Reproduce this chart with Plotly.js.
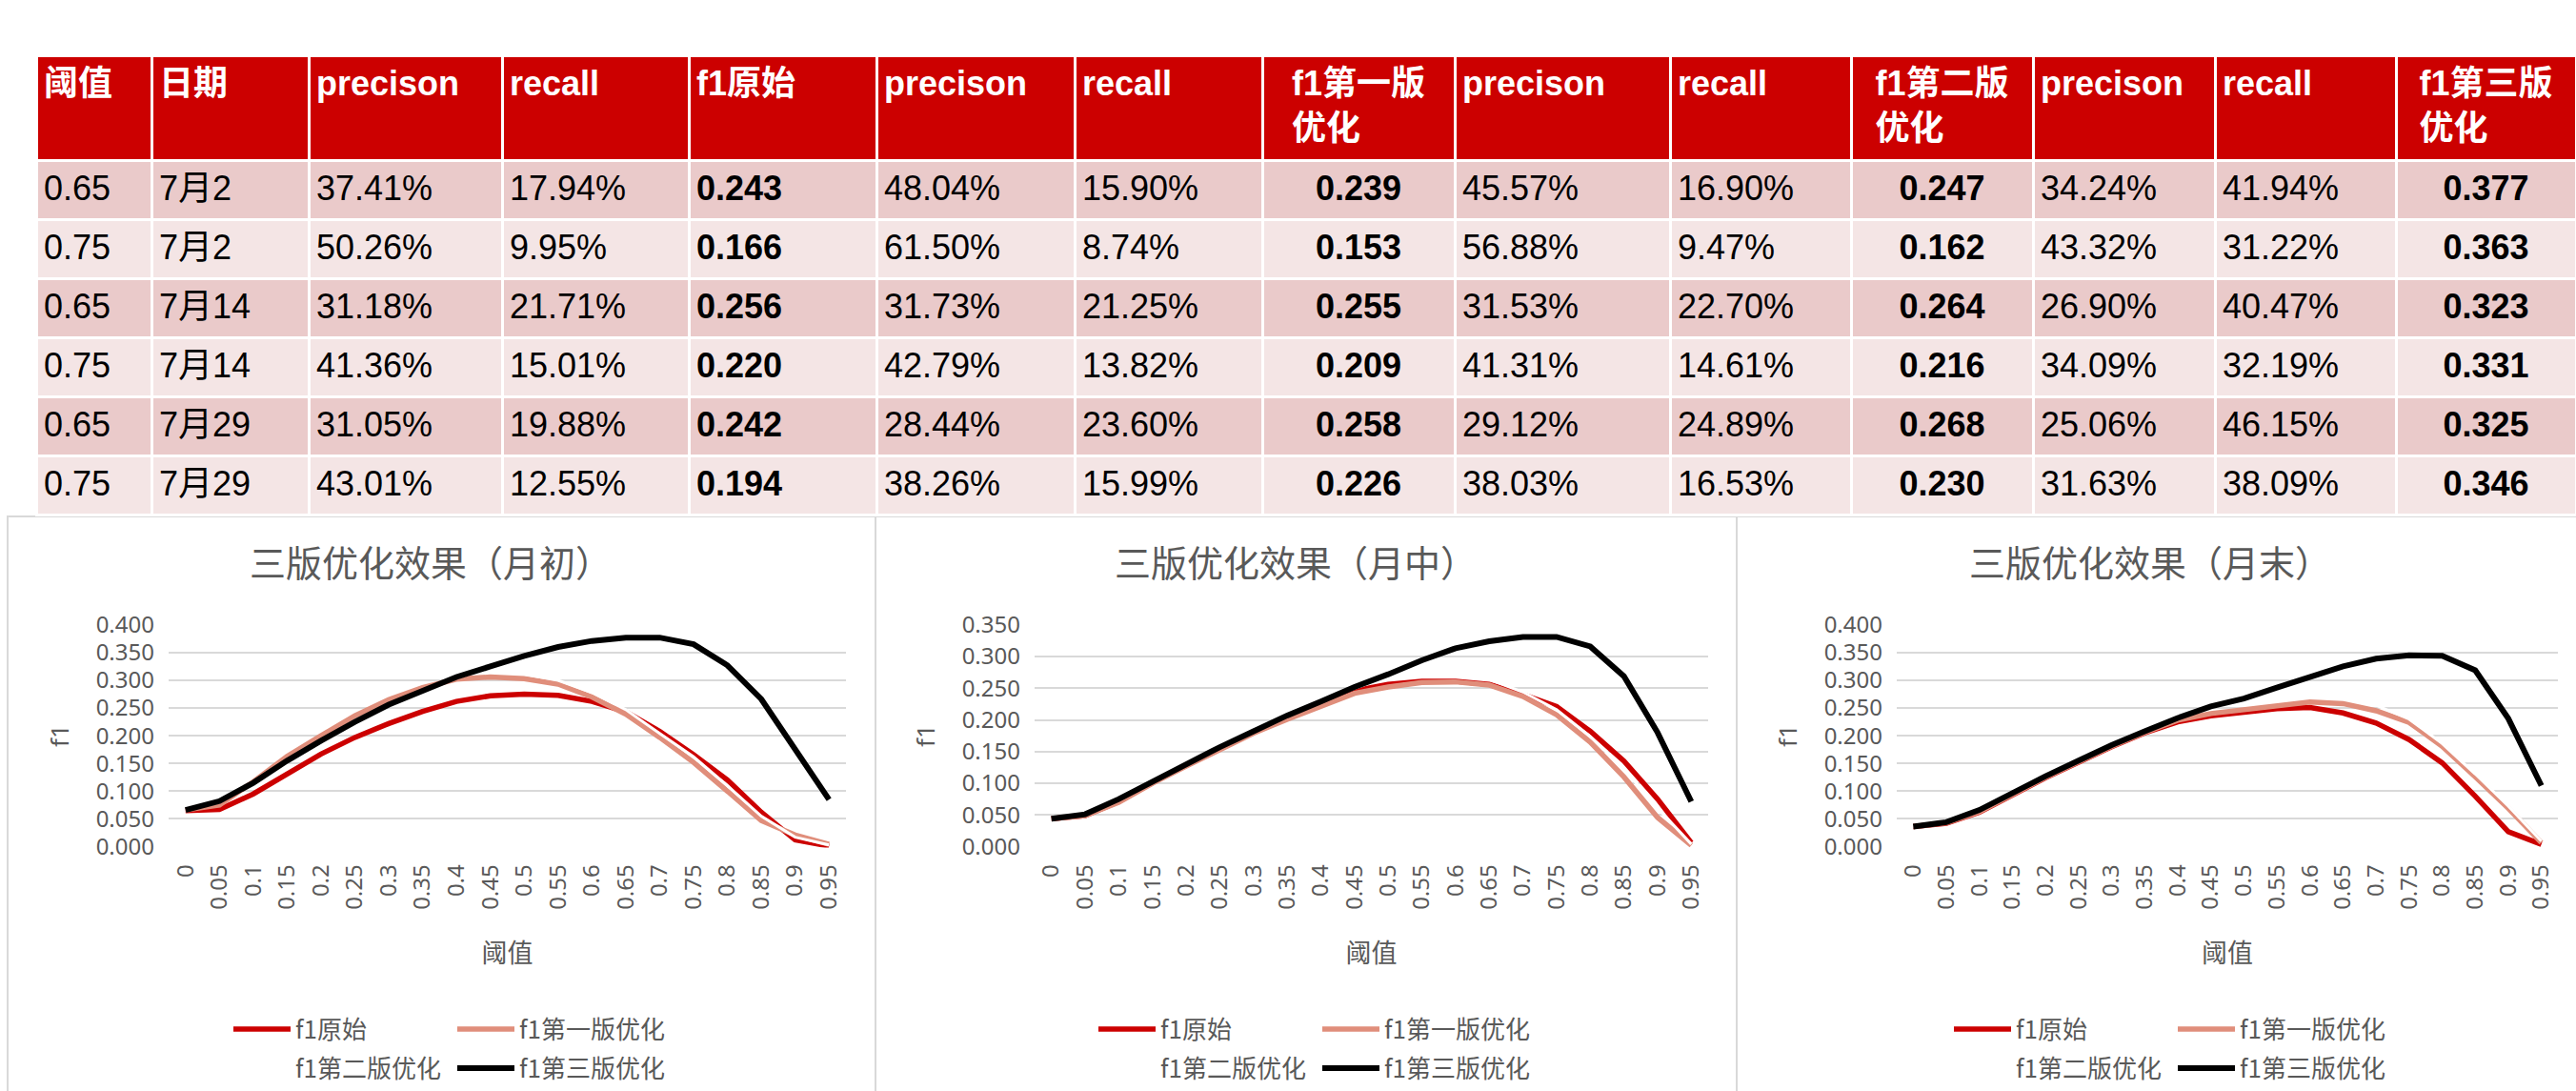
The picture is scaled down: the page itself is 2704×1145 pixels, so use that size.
<!DOCTYPE html>
<html>
<head>
<meta charset="utf-8">
<script src="https://cdn.plot.ly/plotly-3.0.1.min.js"></script>
<style>
html,body{margin:0;padding:0;background:#ffffff;}
#chart{width:2704px;height:1145px;}
</style>
</head>
<body>
<div id="chart"></div>
<script>
// ---------------- table data ----------------
const tableHeaders = ['阈值','日期','precison','recall','f1原始','precison','recall','f1第一版<br>优化','precison','recall','f1第二版<br>优化','precison','recall','f1第三版<br>优化'];
const colThreshold = ['0.65','0.75','0.65','0.75','0.65','0.75'];
const colDate = ['7月2','7月2','7月14','7月14','7月29','7月29'];
const precOrig = ['37.41%','50.26%','31.18%','41.36%','31.05%','43.01%'];
const recallOrig = ['17.94%','9.95%','21.71%','15.01%','19.88%','12.55%'];
const f1Orig = ['0.243','0.166','0.256','0.220','0.242','0.194'];
const precV1 = ['48.04%','61.50%','31.73%','42.79%','28.44%','38.26%'];
const recallV1 = ['15.90%','8.74%','21.25%','13.82%','23.60%','15.99%'];
const f1V1 = ['0.239','0.153','0.255','0.209','0.258','0.226'];
const precV2 = ['45.57%','56.88%','31.53%','41.31%','29.12%','38.03%'];
const recallV2 = ['16.90%','9.47%','22.70%','14.61%','24.89%','16.53%'];
const f1V2 = ['0.247','0.162','0.264','0.216','0.268','0.230'];
const precV3 = ['34.24%','43.32%','26.90%','34.09%','25.06%','31.63%'];
const recallV3 = ['41.94%','31.22%','40.47%','32.19%','46.15%','38.09%'];
const f1V3 = ['0.377','0.363','0.323','0.331','0.325','0.346'];

// ---------------- chart data ----------------
const thresholds = ['0','0.05','0.1','0.15','0.2','0.25','0.3','0.35','0.4','0.45','0.5','0.55','0.6','0.65','0.7','0.75','0.8','0.85','0.9','0.95'];
const seriesNames = ['f1原始','f1第一版优化','f1第二版优化','f1第三版优化'];
const chartTitles = ['三版优化效果（月初）','三版优化效果（月中）','三版优化效果（月末）'];

// 月初
const earlyOrig = [0.065,0.067,0.095,0.132,0.167,0.197,0.222,0.244,0.262,0.272,0.275,0.273,0.262,0.243,0.208,0.166,0.120,0.062,0.012,0.001];
const earlyV1   = [0.066,0.075,0.117,0.163,0.200,0.236,0.265,0.287,0.302,0.306,0.303,0.293,0.270,0.239,0.197,0.152,0.100,0.047,0.021,0.004];
const earlyV2   = [0.066,0.080,0.114,0.153,0.189,0.223,0.254,0.280,0.304,0.323,0.311,0.300,0.278,0.247,0.204,0.162,0.110,0.055,0.017,0.003];
const earlyV3   = [0.066,0.082,0.115,0.155,0.191,0.225,0.256,0.282,0.306,0.325,0.344,0.360,0.371,0.377,0.377,0.365,0.327,0.266,0.177,0.085];
// 月中
const midOrig = [0.044,0.049,0.071,0.101,0.128,0.155,0.180,0.203,0.224,0.246,0.256,0.261,0.261,0.256,0.240,0.221,0.182,0.135,0.075,0.006];
const midV1   = [0.044,0.049,0.070,0.100,0.127,0.154,0.179,0.201,0.222,0.242,0.252,0.259,0.260,0.255,0.237,0.208,0.165,0.110,0.046,0.002];
const midV2   = [0.043,0.050,0.074,0.102,0.129,0.156,0.181,0.206,0.228,0.250,0.268,0.272,0.272,0.264,0.244,0.216,0.174,0.123,0.061,0.004];
const midV3   = [0.044,0.051,0.075,0.103,0.130,0.157,0.182,0.207,0.229,0.252,0.272,0.294,0.313,0.324,0.331,0.331,0.316,0.269,0.180,0.071];
// 月末
const lateOrig = [0.036,0.042,0.062,0.094,0.124,0.152,0.180,0.205,0.225,0.236,0.242,0.249,0.251,0.241,0.223,0.193,0.151,0.091,0.027,0.004];
const lateV1   = [0.036,0.043,0.063,0.095,0.125,0.153,0.181,0.206,0.228,0.240,0.247,0.256,0.261,0.258,0.245,0.224,0.181,0.126,0.069,0.007];
const lateV2   = [0.036,0.044,0.066,0.097,0.127,0.155,0.183,0.207,0.231,0.252,0.262,0.266,0.270,0.268,0.255,0.230,0.186,0.131,0.073,0.010];
const lateV3   = [0.036,0.044,0.066,0.097,0.127,0.155,0.183,0.208,0.232,0.253,0.267,0.287,0.307,0.325,0.339,0.345,0.344,0.318,0.231,0.110];

// ---------------- styling / layout helpers ----------------
const W = 2704, H = 1145;
const px = x => x / W;
const py = y => 1 - y / H;
const FONT = 'Noto Sans, Noto Sans CJK SC, sans-serif';
const TABLEFONT = 'Liberation Sans, Noto Sans CJK SC, sans-serif';
const CJK = 'Noto Sans CJK SC, Noto Sans, sans-serif';
const GRAY = '#595959';
const lineColors = ['#CC0000', '#E08E7B', '#FFFFFF', '#000000'];
const lineWidths = [5.5, 5.5, 3, 6];

const traces = [];

// table
const bold = arr => arr.map(v => '<b>' + v + '</b>');
const plain = arr => arr.map(v => '<span>' + v + '</span>');
const rowFill = ['#EACACA', '#F4E5E5', '#EACACA', '#F4E5E5', '#EACACA', '#F4E5E5'];
const tableCols = [plain(colThreshold), plain(colDate), plain(precOrig), plain(recallOrig), bold(f1Orig),
                   plain(precV1), plain(recallV1), bold(f1V1), plain(precV2), plain(recallV2), bold(f1V2),
                   plain(precV3), plain(recallV3), bold(f1V3)];
const aligns = ['left','left','left','left','left','left','left','center','left','left','center','left','left','center'];
traces.push({
  type: 'table',
  domain: {x: [px(38), 1], y: [py(550), py(59)]},
  columnwidth: [121,165,203,196,197,208,197,202,226,190,191,191,190,189],
  header: {
    values: tableHeaders.map(h => '<b>' + h + '</b>'),
    align: aligns,
    height: 110,
    fill: {color: '#CC0000'},
    line: {color: '#FFFFFF', width: 3},
    font: {family: TABLEFONT, size: 36, color: '#FFFFFF'}
  },
  cells: {
    values: tableCols,
    align: aligns,
    height: 62,
    fill: {color: tableCols.map(() => rowFill)},
    line: {color: '#FFFFFF', width: 3},
    font: {family: TABLEFONT, size: 36, color: '#000000'}
  }
});

const chartData = [
  [earlyOrig, earlyV1, earlyV2, earlyV3],
  [midOrig, midV1, midV2, midV3],
  [lateOrig, lateV1, lateV2, lateV3]
];

chartData.forEach((series, k) => {
  const suffix = k === 0 ? '' : String(k + 1);
  const leg1 = k === 0 ? 'legend' : 'legend' + (2 * k + 1);
  const leg2 = 'legend' + (2 * k + 2);
  series.forEach((vals, s) => {
    traces.push({
      type: 'scatter',
      mode: 'lines',
      name: seriesNames[s],
      x: thresholds,
      y: vals,
      xaxis: 'x' + suffix,
      yaxis: 'y' + suffix,
      legend: s < 2 ? leg1 : leg2,
      line: {color: lineColors[s], width: lineWidths[s]},
      hoverinfo: 'skip'
    });
  });
});

const layout = {
  width: W, height: H,
  margin: {l: 0, r: 0, t: 0, b: 0, pad: 0},
  paper_bgcolor: '#FFFFFF',
  plot_bgcolor: '#FFFFFF',
  font: {family: CJK, color: GRAY},
  annotations: [],
  shapes: []
};

const xDomains = [[177, 888], [1086, 1793], [1991, 2685]];
const yMax = [0.4, 0.35, 0.4];
const titleX = [452, 1360, 2257];
const panels = [[8, 919], [919, 1823], [1823, 2710]];
const legendX = [240, 1148, 2046];

for (let k = 0; k < 3; k++) {
  const suffix = k === 0 ? '' : String(k + 1);
  layout['xaxis' + suffix] = {
    domain: [px(xDomains[k][0]), px(xDomains[k][1])],
    anchor: 'y' + suffix,
    type: 'category',
    range: [-0.5, 19.5],
    tickangle: -90,
    ticks: '',
    ticklabelstandoff: 12,
    showgrid: false,
    zeroline: false,
    showline: false,
    tickfont: {family: FONT, size: 24, color: GRAY},
    title: {text: '阈值', font: {family: CJK, size: 27, color: GRAY}, standoff: 37}
  };
  layout['yaxis' + suffix] = {
    domain: [py(891), py(656)],
    anchor: 'x' + suffix,
    range: [-yMax[k] * 0.004, yMax[k] * 1.004],
    dtick: 0.05,
    tick0: 0,
    tickformat: '.3f',
    ticks: '',
    ticklabelstandoff: 14,
    showgrid: true,
    gridcolor: '#D9D9D9',
    gridwidth: 2,
    zeroline: false,
    showline: false,
    tickfont: {family: FONT, size: 24, color: GRAY},
    title: {text: 'f1', font: {family: FONT, size: 26, color: GRAY}, standoff: 20}
  };
  layout.annotations.push({
    xref: 'paper', yref: 'paper',
    x: px(titleX[k]), y: py(590),
    xanchor: 'center', yanchor: 'middle',
    showarrow: false,
    text: chartTitles[k],
    font: {family: CJK, size: 38, color: GRAY}
  });
  layout.shapes.push({
    type: 'rect', xref: 'paper', yref: 'paper',
    x0: px(panels[k][0]), x1: px(panels[k][1]),
    y0: -0.02, y1: py(543),
    line: {color: '#D9D9D9', width: 2},
    fillcolor: 'rgba(0,0,0,0)',
    layer: 'below'
  });
  const leg1 = k === 0 ? 'legend' : 'legend' + (2 * k + 1);
  const leg2 = 'legend' + (2 * k + 2);
  [[leg1, 1082], [leg2, 1123]].forEach(([name, yy]) => {
    layout[name] = {
      orientation: 'h',
      x: px(legendX[k]), xanchor: 'left',
      y: py(yy), yanchor: 'middle',
      font: {family: CJK, size: 26, color: GRAY},
      itemwidth: 60,
      entrywidth: 160,
      entrywidthmode: 'pixels',
      bgcolor: 'rgba(0,0,0,0)',
      borderwidth: 0,
      traceorder: 'normal'
    };
  });
}

Plotly.newPlot('chart', traces, layout, {displayModeBar: false, staticPlot: true});
</script>
</body>
</html>
